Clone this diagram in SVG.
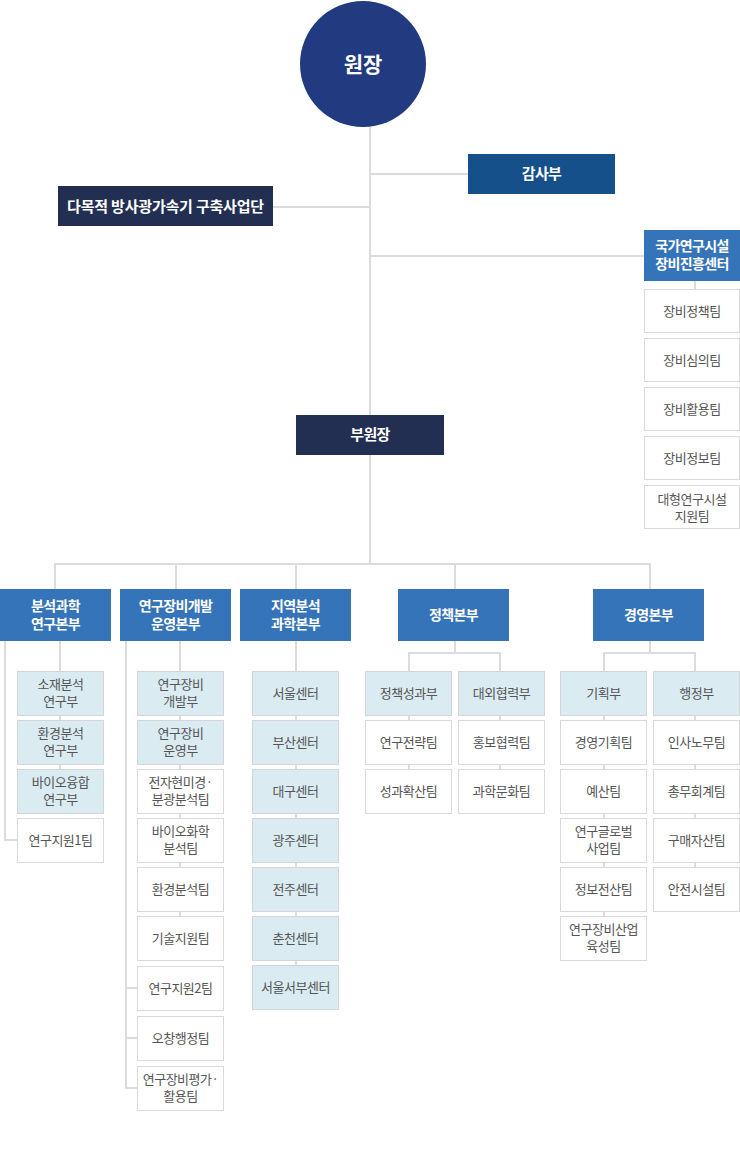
<svg xmlns="http://www.w3.org/2000/svg" width="740" height="1153" viewBox="0 0 740 1153">
<style>
text{font-family:"Noto Sans CJK KR","Noto Sans",sans-serif;text-anchor:middle}
.hd{fill:#fff;font-weight:bold;font-size:14px;letter-spacing:-0.6px}
.hd.lg{font-size:15px}
.hd.xl{font-size:15px;letter-spacing:-0.2px}
.sb{fill:#555;font-size:13px;letter-spacing:-0.5px}
.hb{fill:#3574b9}
.bl{fill:#daebf1;stroke:#d5d5d5;stroke-width:1}
.wh{fill:#fff;stroke:#d9d9d9;stroke-width:1}
.ln{fill:none;stroke:#dcdcdc;stroke-width:2}
</style>
<rect width="740" height="1153" fill="#fff"/>
<g id="connectors" class="ln">
<path d="M370 127V564"/>
<path d="M370 174H468"/>
<path d="M273 207H370"/>
<path d="M370 256H644"/>
<path d="M695 281V289"/>
<path d="M55 589V564H650V589"/>
<path d="M176 564V589M296 564V589M455 564V589"/>
<path d="M60 641V769"/>
<path d="M5 641V840H17"/>
<path d="M180 641V916"/>
<path d="M126 641V1088H137M126 988H137M126 1038H137"/>
<path d="M296 641V965"/>
<path d="M455 641V653M409 671V653H500V671M409 716V769M500 716V769"/>
<path d="M650 641V653M604 671V653H695V671M604 716V916M695 716V867"/>
</g>
<g id="director"><circle cx="363" cy="64" r="63" fill="#213a80"/><text x="363" y="72" fill="#fff" font-size="21" font-weight="bold">원장</text></g>
<g id="audit"><rect x="468" y="154" width="147" height="40" fill="#16508b"/><text class="hd lg" x="541.5" y="179">감사부</text></g>
<g id="accel"><rect x="58" y="186" width="215" height="40" fill="#232f52"/><text class="hd xl" x="165.5" y="211.5">다목적 방사광가속기 구축사업단</text></g>
<g id="nfec"><rect x="644" y="230" width="96" height="51" class="hb"/><text class="hd" x="692" y="251">국가연구시설</text><text class="hd" x="692" y="269">장비진흥센터</text></g>
<g id="nfec-1"><rect class="wh" x="644.5" y="289.5" width="95" height="43"/><text class="sb" x="692" y="316">장비정책팀</text></g>
<g id="nfec-2"><rect class="wh" x="644.5" y="338.5" width="95" height="43"/><text class="sb" x="692" y="365">장비심의팀</text></g>
<g id="nfec-3"><rect class="wh" x="644.5" y="387.5" width="95" height="43"/><text class="sb" x="692" y="414">장비활용팀</text></g>
<g id="nfec-4"><rect class="wh" x="644.5" y="436.5" width="95" height="43"/><text class="sb" x="692" y="463">장비정보팀</text></g>
<g id="nfec-5"><rect class="wh" x="644.5" y="485.5" width="95" height="43"/><text class="sb" x="692" y="503.5">대형연구시설</text><text class="sb" x="692" y="520.5">지원팀</text></g>
<g id="vice"><rect x="296" y="415" width="148" height="40" fill="#232f52"/><text class="hd lg" x="370" y="440">부원장</text></g>
<g id="div1"><rect x="0" y="589" width="111" height="52" class="hb"/><text class="hd" x="55.5" y="610.5">분석과학</text><text class="hd" x="55.5" y="628.5">연구본부</text></g>
<g id="div2"><rect x="120" y="589" width="111" height="52" class="hb"/><text class="hd" x="175.5" y="610.5">연구장비개발</text><text class="hd" x="175.5" y="628.5">운영본부</text></g>
<g id="div3"><rect x="240" y="589" width="111" height="52" class="hb"/><text class="hd" x="295.5" y="610.5">지역분석</text><text class="hd" x="295.5" y="628.5">과학본부</text></g>
<g id="div4"><rect x="398" y="589" width="111" height="52" class="hb"/><text class="hd" x="453.5" y="620">정책본부</text></g>
<g id="div5"><rect x="593" y="589" width="111" height="52" class="hb"/><text class="hd" x="648.5" y="620">경영본부</text></g>
<g id="c1-1"><rect class="bl" x="17.5" y="671.5" width="86" height="44"/><text class="sb" x="60.5" y="689">소재분석</text><text class="sb" x="60.5" y="706">연구부</text></g>
<g id="c1-2"><rect class="bl" x="17.5" y="720.5" width="86" height="44"/><text class="sb" x="60.5" y="738">환경분석</text><text class="sb" x="60.5" y="755">연구부</text></g>
<g id="c1-3"><rect class="bl" x="17.5" y="769.5" width="86" height="44"/><text class="sb" x="60.5" y="787">바이오융합</text><text class="sb" x="60.5" y="804">연구부</text></g>
<g id="c1-4"><rect class="wh" x="17.5" y="818.5" width="86" height="44"/><text class="sb" x="60.5" y="845">연구지원1팀</text></g>
<g id="c2-1"><rect class="bl" x="137.5" y="671.5" width="86" height="44"/><text class="sb" x="180.5" y="689">연구장비</text><text class="sb" x="180.5" y="706">개발부</text></g>
<g id="c2-2"><rect class="bl" x="137.5" y="720.5" width="86" height="44"/><text class="sb" x="180.5" y="738">연구장비</text><text class="sb" x="180.5" y="755">운영부</text></g>
<g id="c2-3"><rect class="wh" x="137.5" y="769.5" width="86" height="44"/><text class="sb" x="180.5" y="787">전자현미경·</text><text class="sb" x="180.5" y="804">분광분석팀</text></g>
<g id="c2-4"><rect class="wh" x="137.5" y="818.5" width="86" height="44"/><text class="sb" x="180.5" y="836">바이오화학</text><text class="sb" x="180.5" y="853">분석팀</text></g>
<g id="c2-5"><rect class="wh" x="137.5" y="867.5" width="86" height="44"/><text class="sb" x="180.5" y="894">환경분석팀</text></g>
<g id="c2-6"><rect class="wh" x="137.5" y="916.5" width="86" height="44"/><text class="sb" x="180.5" y="943">기술지원팀</text></g>
<g id="c2-7"><rect class="wh" x="137.5" y="966.5" width="86" height="44"/><text class="sb" x="180.5" y="993">연구지원2팀</text></g>
<g id="c2-8"><rect class="wh" x="137.5" y="1016.5" width="86" height="44"/><text class="sb" x="180.5" y="1043">오창행정팀</text></g>
<g id="c2-9"><rect class="wh" x="137.5" y="1066.5" width="86" height="44"/><text class="sb" x="180.5" y="1084">연구장비평가·</text><text class="sb" x="180.5" y="1101">활용팀</text></g>
<g id="c3-1"><rect class="bl" x="252.5" y="671.5" width="86" height="44"/><text class="sb" x="295.5" y="698">서울센터</text></g>
<g id="c3-2"><rect class="bl" x="252.5" y="720.5" width="86" height="44"/><text class="sb" x="295.5" y="747">부산센터</text></g>
<g id="c3-3"><rect class="bl" x="252.5" y="769.5" width="86" height="44"/><text class="sb" x="295.5" y="796">대구센터</text></g>
<g id="c3-4"><rect class="bl" x="252.5" y="818.5" width="86" height="44"/><text class="sb" x="295.5" y="845">광주센터</text></g>
<g id="c3-5"><rect class="bl" x="252.5" y="867.5" width="86" height="44"/><text class="sb" x="295.5" y="894">전주센터</text></g>
<g id="c3-6"><rect class="bl" x="252.5" y="916.5" width="86" height="44"/><text class="sb" x="295.5" y="943">춘천센터</text></g>
<g id="c3-7"><rect class="bl" x="252.5" y="965.5" width="86" height="44"/><text class="sb" x="295.5" y="992">서울서부센터</text></g>
<g id="c4-1"><rect class="bl" x="365.5" y="671.5" width="86" height="44"/><text class="sb" x="408.5" y="698">정책성과부</text></g>
<g id="c4-2"><rect class="wh" x="365.5" y="720.5" width="86" height="44"/><text class="sb" x="408.5" y="747">연구전략팀</text></g>
<g id="c4-3"><rect class="wh" x="365.5" y="769.5" width="86" height="44"/><text class="sb" x="408.5" y="796">성과확산팀</text></g>
<g id="c5-1"><rect class="bl" x="458.5" y="671.5" width="86" height="44"/><text class="sb" x="501.5" y="698">대외협력부</text></g>
<g id="c5-2"><rect class="wh" x="458.5" y="720.5" width="86" height="44"/><text class="sb" x="501.5" y="747">홍보협력팀</text></g>
<g id="c5-3"><rect class="wh" x="458.5" y="769.5" width="86" height="44"/><text class="sb" x="501.5" y="796">과학문화팀</text></g>
<g id="c6-1"><rect class="bl" x="560.5" y="671.5" width="86" height="44"/><text class="sb" x="603.5" y="698">기획부</text></g>
<g id="c6-2"><rect class="wh" x="560.5" y="720.5" width="86" height="44"/><text class="sb" x="603.5" y="747">경영기획팀</text></g>
<g id="c6-3"><rect class="wh" x="560.5" y="769.5" width="86" height="44"/><text class="sb" x="603.5" y="796">예산팀</text></g>
<g id="c6-4"><rect class="wh" x="560.5" y="818.5" width="86" height="44"/><text class="sb" x="603.5" y="836">연구글로벌</text><text class="sb" x="603.5" y="853">사업팀</text></g>
<g id="c6-5"><rect class="wh" x="560.5" y="867.5" width="86" height="44"/><text class="sb" x="603.5" y="894">정보전산팀</text></g>
<g id="c6-6"><rect class="wh" x="560.5" y="916.5" width="86" height="44"/><text class="sb" x="603.5" y="934">연구장비산업</text><text class="sb" x="603.5" y="951">육성팀</text></g>
<g id="c7-1"><rect class="bl" x="653.5" y="671.5" width="86" height="44"/><text class="sb" x="696.5" y="698">행정부</text></g>
<g id="c7-2"><rect class="wh" x="653.5" y="720.5" width="86" height="44"/><text class="sb" x="696.5" y="747">인사노무팀</text></g>
<g id="c7-3"><rect class="wh" x="653.5" y="769.5" width="86" height="44"/><text class="sb" x="696.5" y="796">총무회계팀</text></g>
<g id="c7-4"><rect class="wh" x="653.5" y="818.5" width="86" height="44"/><text class="sb" x="696.5" y="845">구매자산팀</text></g>
<g id="c7-5"><rect class="wh" x="653.5" y="867.5" width="86" height="44"/><text class="sb" x="696.5" y="894">안전시설팀</text></g>
</svg>
